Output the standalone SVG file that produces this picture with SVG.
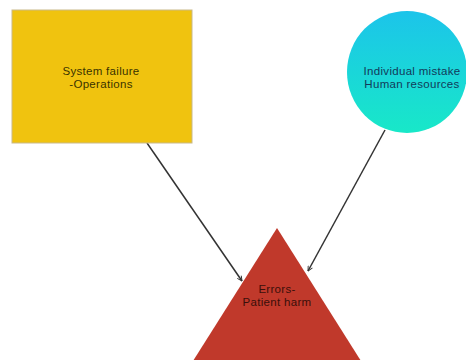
<svg xmlns="http://www.w3.org/2000/svg" width="466" height="360" viewBox="0 0 466 360">
<style>
.lbl{font-family:"Liberation Sans",Arial,sans-serif;font-size:11.5px;letter-spacing:0.3px;text-anchor:middle}
.con{stroke:#333;stroke-width:1.5;fill:none}
</style>
<defs>
<linearGradient id="cg" x1="0" y1="0" x2="0" y2="1">
<stop offset="0" stop-color="#1cc4ea"/>
<stop offset="1" stop-color="#18e8c8"/>
</linearGradient>
<marker id="ah" viewBox="0 0 10 10" refX="9" refY="5" markerWidth="6" markerHeight="6" orient="auto" markerUnits="userSpaceOnUse">
<path d="M1,1 L9,5 L1,9" fill="none" stroke="#333" stroke-width="1.5"/>
</marker>
</defs>
<rect width="466" height="360" fill="#fff"/>
<g id="connectors">
<line class="con" x1="147" y1="143" x2="242" y2="281" marker-end="url(#ah)"/>
<line class="con" x1="385" y1="130" x2="308" y2="271" marker-end="url(#ah)"/>
</g>
<g id="system">
<rect x="12" y="10" width="180" height="133" fill="#f0c30f" stroke="#c9b98a" stroke-width="1"/>
<text class="lbl" x="101" y="75" fill="#3a3300">System failure</text>
<text class="lbl" x="101" y="88" fill="#3a3300">-Operations</text>
</g>
<g id="individual">
<ellipse cx="407" cy="72" rx="60" ry="61" fill="url(#cg)"/>
<text class="lbl" x="412" y="75" fill="#123a5a">Individual mistake</text>
<text class="lbl" x="412" y="88" fill="#123a5a">Human resources</text>
</g>
<g id="errors">
<polygon points="277,228 193,361 361,361" fill="#c0392b"/>
<text class="lbl" x="277" y="293" fill="#3a0f0a">Errors-</text>
<text class="lbl" x="277" y="306" fill="#3a0f0a">Patient harm</text>
</g>
</svg>
